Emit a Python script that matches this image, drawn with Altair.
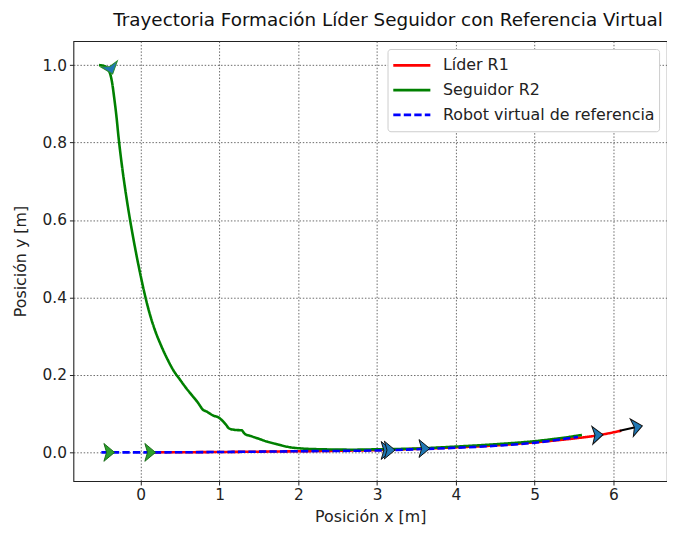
import altair as alt
import pandas as pd

# ---- data ----
follower_x = [-0.53, -0.47, -0.42, -0.385, -0.36, -0.34, -0.31, -0.28, -0.245, -0.205, -0.16, -0.11, -0.055, 0.005, 0.06, 0.125, 0.19, 0.26, 0.34, 0.42, 0.49, 0.58, 0.66, 0.72, 0.76, 0.78, 0.84, 0.92, 0.99, 1.03, 1.08, 1.12, 1.20, 1.28, 1.32, 1.40, 1.50, 1.60, 1.75, 1.90, 2.05, 2.30, 2.70, 3.00, 3.50, 4.00, 4.50, 5.00, 5.30, 5.60]
follower_y = [1.0, 0.998, 0.99, 0.975, 0.95, 0.92, 0.87, 0.81, 0.75, 0.69, 0.63, 0.57, 0.51, 0.45, 0.40, 0.35, 0.31, 0.275, 0.24, 0.21, 0.19, 0.165, 0.145, 0.13, 0.118, 0.112, 0.105, 0.095, 0.09, 0.083, 0.072, 0.062, 0.058, 0.057, 0.048, 0.042, 0.035, 0.028, 0.020, 0.013, 0.010, 0.008, 0.007, 0.008, 0.010, 0.015, 0.021, 0.029, 0.036, 0.045]

leader_x = [0.1, 1.0, 2.0, 3.0, 3.5, 4.0, 4.5, 5.0, 5.5, 5.8, 6.1]
leader_y = [0.0, 0.001, 0.003, 0.006, 0.009, 0.013, 0.018, 0.026, 0.036, 0.044, 0.056]

virtual_x = [-0.5, 0.0, 1.0, 2.0, 3.0, 3.5, 4.0, 4.5, 5.0, 5.55]
virtual_y = [0.0, 0.0, 0.001, 0.003, 0.005, 0.008, 0.012, 0.017, 0.025, 0.040]

shaft_x = [6.08, 6.28]
shaft_y = [0.056, 0.065]

arrow_x = [-0.40, 0.12, -0.38, 3.12, 3.16, 3.60, 5.80, 6.30]
arrow_y = [0.0, 0.0, 0.99, 0.005, 0.006, 0.010, 0.045, 0.066]
arrow_angle = [0, 0, 70, 0, 0, 0, -3, -10]
arrow_fill = ["#2ca02c", "#2ca02c", "#1f77b4", "#1f77b4", "#1f77b4", "#1f77b4", "#1f77b4", "#1f77b4"]
arrow_stroke = ["#1a6b1a", "#1a6b1a", "#2a8a2a", "#111111", "#111111", "#111111", "#111111", "#111111"]

series = ["Líder R1", "Seguidor R2", "Robot virtual de referencia"]
series_colors = ["#ff0000", "#008000", "#0000ff"]
series_dash = [[1, 0], [1, 0], [7.4, 3.2]]

rows = []
for i, (xs, ys) in enumerate([(leader_x, leader_y), (follower_x, follower_y), (virtual_x, virtual_y)]):
    for k, (a, b) in enumerate(zip(xs, ys)):
        rows.append({"serie": series[i], "x": a, "y": b, "o": k})
lines_df = pd.DataFrame(rows)
shaft_df = pd.DataFrame({"x": shaft_x, "y": shaft_y, "o": [0, 1]})
arrow_df = pd.DataFrame({"x": arrow_x, "y": arrow_y, "angle": arrow_angle,
                         "fill": arrow_fill, "stroke": arrow_stroke})

xscale = alt.Scale(domain=[-0.855, 6.68], nice=False, zero=False)
yscale = alt.Scale(domain=[-0.074, 1.062], nice=False, zero=False)

xaxis = alt.Axis(values=[0, 1, 2, 3, 4, 5, 6], format="d", title="Posición x [m]", titlePadding=5)
yaxis = alt.Axis(values=[0.0, 0.2, 0.4, 0.6, 0.8, 1.0], format=".1f", title="Posición y [m]", titlePadding=14)

lines = alt.Chart(lines_df).mark_line(strokeWidth=2.6, interpolate="monotone").encode(
    x=alt.X("x:Q", scale=xscale, axis=xaxis),
    y=alt.Y("y:Q", scale=yscale, axis=yaxis),
    color=alt.Color("serie:N", scale=alt.Scale(domain=series, range=series_colors),
                    legend=alt.Legend(title=None)),
    strokeDash=alt.StrokeDash("serie:N", scale=alt.Scale(domain=series, range=series_dash),
                              legend=alt.Legend(title=None)),
    order="o:Q",
    detail="serie:N",
)

shaft = alt.Chart(shaft_df).mark_line(color="black", strokeWidth=2).encode(
    x=alt.X("x:Q", scale=xscale), y=alt.Y("y:Q", scale=yscale), order="o:Q")

arrow_path = "M-0.6,-1L0.6,0L-0.6,1L-0.3,0Z"
arrows = alt.Chart(arrow_df).mark_point(shape=arrow_path, size=324, filled=True,
                                        strokeWidth=1, opacity=1).encode(
    x=alt.X("x:Q", scale=xscale), y=alt.Y("y:Q", scale=yscale),
    angle=alt.Angle("angle:Q", scale=None),
    fill=alt.Fill("fill:N", scale=None),
    stroke=alt.Stroke("stroke:N", scale=None),
)

chart = alt.layer(lines, shaft, arrows).properties(
    width=599, height=444,
    title=alt.TitleParams("Trayectoria Formación Líder Seguidor con Referencia Virtual",
                          fontSize=18.5, font="DejaVu Sans", fontWeight="normal",
                          color="#111", anchor="middle", offset=12, dx=18),
    autosize=alt.AutoSizeParams(type="none"),
    padding={"left": 66, "top": 31, "right": 0, "bottom": 44},
).configure_view(stroke="#222", strokeWidth=1.1).configure_axis(
    domain=False, grid=True, gridColor="#444", gridDash=[1.5, 1.8], gridWidth=0.8, gridOpacity=1,
    tickColor="#222", tickSize=4, tickWidth=1,
    labelFont="DejaVu Sans", labelFontSize=15.5, labelColor="#222", labelPadding=3,
    titleFont="DejaVu Sans", titleFontSize=16, titleFontWeight="normal", titleColor="#222",
).configure_legend(
    orient="top-right", offset=8, padding=4, fillColor="white", strokeColor="#ccc",
    cornerRadius=3, labelFont="DejaVu Sans", labelFontSize=16, labelColor="#222", labelLimit=0,
    symbolType="stroke", symbolStrokeWidth=2.6, symbolSize=1400, rowPadding=0, clipHeight=25,
    labelOffset=11,
)

chart.save("out.html", embed_options={"renderer": "svg", "actions": False})
